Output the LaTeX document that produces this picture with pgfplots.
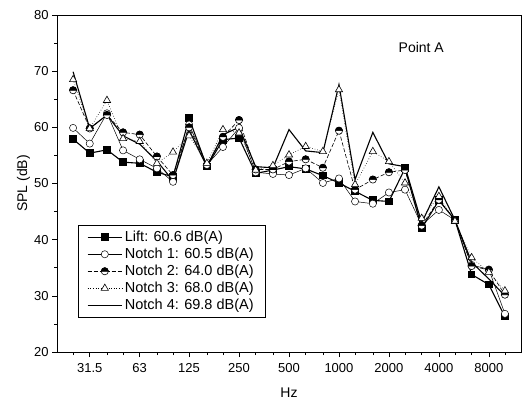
\documentclass[border=0pt]{standalone}
\usepackage{fontspec}
\setmainfont{Liberation Sans}
\usepackage{pgfplots}
\pgfplotsset{compat=1.18}
\usetikzlibrary{plotmarks}

\pgfdeclareplotmark{semicirc}{%
  \pgfpathcircle{\pgfpointorigin}{\pgfplotmarksize}%
  \pgfsetfillcolor{white}\pgfusepathqfillstroke
  \pgfpathmoveto{\pgfpoint{-\pgfplotmarksize}{0pt}}%
  \pgfpatharc{180}{0}{\pgfplotmarksize}%
  \pgfpathclose
  \pgfsetfillcolor{black}\pgfusepathqfillstroke
}

\begin{document}
\begin{tikzpicture}
\begin{axis}[
  name=ax,
  width=464pt, height=337pt, scale only axis,
  xmode=log, xmin=20, xmax=12500,
  ymin=20, ymax=80,
  xtick={31.5,63,125,250,500,1000,2000,4000,8000},
  xticklabels={31.5,63,125,250,500,1000,2000,4000,8000},
  minor xtick={25,40,50,80,100,160,200,315,400,630,800,1250,1600,2500,3150,5000,6300,10000},
  ytick={20,30,40,50,60,70,80},
  minor ytick={25,35,45,55,65,75},
  tick align=outside, xtick pos=bottom, ytick pos=left,
  major tick length=5pt, minor tick length=3pt,
  tick style={black, line width=0.6pt},
  axis line style={line width=0.8pt},
  /pgf/number format/assume math mode=true,
  tick label style={font=\fontsize{13}{15}\selectfont},
  x tick label style={yshift=-3pt},
  xlabel={Hz}, ylabel={SPL (dB)},
  label style={font=\fontsize{14}{16}\selectfont},
  xlabel style={yshift=-8pt},
  ylabel style={yshift=-3pt},
  legend style={at={(0.045,0.377)}, anchor=north west, draw=black, line width=0.6pt,
    font=\fontsize{14.5}{16}\selectfont, row sep=1pt, inner sep=4pt, inner xsep=9pt,
    nodes={inner xsep=2.5pt}},
  legend cell align=left,
  legend image code/.code={%
    \draw[mark repeat=2, mark phase=2, #1] plot coordinates {(0cm,0cm) (0.6cm,0cm) (1.2cm,0cm)};},
]
\addplot[black, line width=1.1pt, mark=square*, mark size=3.3pt, mark options={solid, fill=black}] coordinates {
(25,57.9)(31.5,55.4)(40,56.0)(50,53.8)(63,53.6)(80,52.0)(100,51.2)(125,61.6)(160,53.0)(200,57.8)(250,58.1)(315,51.8)(400,52.4)(500,53.0)(630,52.6)(800,51.4)(1000,50.1)(1250,48.6)(1600,47.0)(2000,46.8)(2500,52.7)(3150,42.0)(4000,47.0)(5000,43.5)(6300,33.8)(8000,32.0)(10000,26.3)};
\addlegendentry{Lift: 60.6 dB(A)}
\addplot[black, line width=0.5pt, mark=*, mark size=3.6pt, mark options={solid, fill=white}] coordinates {
(25,59.9)(31.5,57.1)(40,62.5)(50,55.9)(63,54.3)(80,52.7)(100,50.3)(125,60.5)(160,53.3)(200,56.5)(250,59.9)(315,52.0)(400,51.7)(500,51.5)(630,52.7)(800,50.1)(1000,50.9)(1250,46.8)(1600,46.4)(2000,48.4)(2500,48.9)(3150,42.6)(4000,45.3)(5000,43.5)(6300,35.5)(8000,34.7)(10000,26.8)};
\addlegendentry{Notch 1: 60.5 dB(A)}
\addplot[black, line width=0.6pt, dash pattern=on 4pt off 2pt, mark=semicirc, mark size=3.6pt, mark options={solid}] coordinates {
(25,66.6)(31.5,59.8)(40,62.2)(50,59.1)(63,58.7)(80,54.8)(100,51.5)(125,60.0)(160,53.3)(200,58.3)(250,61.3)(315,52.5)(400,52.5)(500,53.9)(630,54.3)(800,52.8)(1000,59.4)(1250,48.9)(1600,50.7)(2000,52.0)(2500,52.4)(3150,42.5)(4000,47.1)(5000,43.5)(6300,35.3)(8000,34.6)(10000,30.2)};
\addlegendentry{Notch 2: 64.0 dB(A)}
\addplot[black, line width=0.6pt, dotted, mark=triangle*, mark size=4.2pt, mark options={solid, fill=white}] coordinates {
(25,68.5)(31.5,59.8)(40,64.8)(50,58.0)(63,57.5)(80,53.6)(100,55.6)(125,58.5)(160,53.6)(200,59.6)(250,59.0)(315,52.4)(400,53.2)(500,55.1)(630,56.6)(800,55.7)(1000,66.7)(1250,49.8)(1600,55.7)(2000,53.9)(2500,50.1)(3150,43.8)(4000,47.7)(5000,43.3)(6300,36.8)(8000,34.2)(10000,30.9)};
\addlegendentry{Notch 3: 68.0 dB(A)}
\addplot[black, line width=1.1pt] coordinates {
(25,69.9)(31.5,59.8)(40,62.2)(50,58.5)(63,57.0)(80,54.0)(100,50.5)(125,59.5)(160,53.0)(200,58.7)(250,60.0)(315,53.0)(400,52.8)(500,59.6)(630,55.8)(800,55.5)(1000,67.6)(1250,50.7)(1600,59.1)(2000,53.5)(2500,53.0)(3150,43.0)(4000,49.4)(5000,43.5)(6300,36.0)(8000,33.0)(10000,30.0)};
\addlegendentry{Notch 4: 69.8 dB(A)}
\node[font=\fontsize{14}{16}\selectfont] at (rel axis cs:0.785,0.905) {Point A};
\end{axis}
\pgfresetboundingbox
\path[use as bounding box] ([shift={(-57pt,-53pt)}]ax.south west) rectangle ([shift={(1pt,15pt)}]ax.north east);
\end{tikzpicture}
\end{document}
